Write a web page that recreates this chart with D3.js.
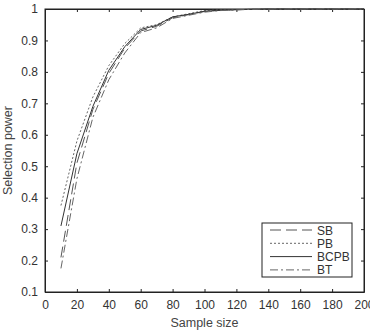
<!DOCTYPE html>
<html>
<head>
<meta charset="utf-8">
<script src="https://cdn.jsdelivr.net/npm/d3@7"></script>
<style>
  body { margin: 0; background: #fff; }
  text { font-family: "Liberation Sans", Arial, sans-serif; }
</style>
</head>
<body>
<div id="chart"></div>
<script>
var chart_width = 370;
var chart_height = 332;

// sample sizes and selection power per method
var sampleSize = [10, 20, 30, 40, 50, 60, 70, 80, 90, 100, 110, 120, 130, 140, 160, 180, 200];
var sb   = [0.21, 0.51, 0.68, 0.795, 0.875, 0.93, 0.945, 0.972, 0.982, 0.992, 0.996, 0.998, 0.999, 1, 1, 1, 1];
var pb   = [0.375, 0.58, 0.72, 0.82, 0.89, 0.94, 0.95, 0.975, 0.985, 0.995, 0.997, 0.998, 0.999, 1, 1, 1, 1];
var bcpb = [0.31, 0.54, 0.69, 0.805, 0.88, 0.935, 0.948, 0.975, 0.983, 0.993, 0.996, 0.998, 0.999, 1, 1, 1, 1];
var bt   = [0.175, 0.46, 0.655, 0.775, 0.86, 0.925, 0.94, 0.97, 0.98, 0.99, 0.995, 0.997, 0.999, 1, 1, 1, 1];
var seriesNames = ['SB', 'PB', 'BCPB', 'BT'];
var xTicks = [0, 20, 40, 60, 80, 100, 120, 140, 160, 180, 200];
var yTicks = [0.1, 0.2, 0.3, 0.4, 0.5, 0.6, 0.7, 0.8, 0.9, 1];

var margin = {left: 45, right: 6, top: 9, bottom: 40};

var svg = d3.select('#chart')
    .append('svg')
    .attr('width', chart_width)
    .attr('height', chart_height);

var x_scale = d3.scaleLinear()
    .domain([0, 200])
    .range([margin.left, 364]);

var y_scale = d3.scaleLinear()
    .domain([0.1, 1])
    .range([292, margin.top]);

// axes, ticks inward like matlab
var x_axis = d3.axisBottom(x_scale).tickValues(xTicks).tickSizeInner(-3).tickSizeOuter(0).tickPadding(8);
var y_axis = d3.axisLeft(y_scale).tickValues(yTicks).tickSizeInner(-3).tickSizeOuter(0).tickPadding(7)
    .tickFormat(d => d === 1 ? '1' : d3.format('.1f')(d));

svg.append('g')
    .attr('class', 'x-axis')
    .attr('transform', `translate(0, ${y_scale(0.1)})`)
    .call(x_axis);

svg.append('g')
    .attr('class', 'y-axis')
    .attr('transform', `translate(${x_scale(0)}, 0)`)
    .call(y_axis);

svg.append('g')
    .attr('transform', `translate(0, ${y_scale(1)})`)
    .call(d3.axisTop(x_scale).tickValues(xTicks).tickSizeInner(-3).tickSizeOuter(0).tickFormat(''));

svg.append('g')
    .attr('transform', `translate(${x_scale(200)}, 0)`)
    .call(d3.axisRight(y_scale).tickValues(yTicks).tickSizeInner(-3).tickSizeOuter(0).tickFormat(''));

svg.selectAll('.domain, .tick line').attr('stroke', '#222');
svg.selectAll('.tick text').attr('font-size', 12).attr('fill', '#333');

// box
svg.append('rect')
    .attr('x', x_scale(0))
    .attr('y', y_scale(1))
    .attr('width', x_scale(200) - x_scale(0))
    .attr('height', y_scale(0.1) - y_scale(1))
    .attr('fill', 'none')
    .attr('stroke', '#222');

// axis titles
svg.append('text')
    .attr('x', (x_scale(0) + x_scale(200)) / 2)
    .attr('y', 327)
    .attr('text-anchor', 'middle')
    .attr('font-size', 12.5)
    .attr('fill', '#444')
    .text('Sample size');

svg.append('text')
    .attr('transform', `translate(12, ${(y_scale(0.1) + y_scale(1)) / 2}) rotate(-90)`)
    .attr('text-anchor', 'middle')
    .attr('font-size', 12.5)
    .attr('fill', '#444')
    .text('Selection power');

// lines
var styles = [
    {values: sb, dash: '11,5', color: '#555'},
    {values: pb, dash: '2,2', color: '#666'},
    {values: bcpb, dash: null, color: '#333'},
    {values: bt, dash: '8,3,2,3', color: '#666'}
];

var line = d3.line()
    .x((d, i) => x_scale(sampleSize[i]))
    .y(d => y_scale(d));

styles.forEach(s => {
    svg.append('path')
        .datum(s.values)
        .attr('d', line)
        .attr('fill', 'none')
        .attr('stroke', s.color)
        .attr('stroke-width', 1)
        .attr('stroke-dasharray', s.dash);
});

// legend
var lg = svg.append('g').attr('transform', 'translate(262, 223)');
lg.append('rect')
    .attr('width', 90)
    .attr('height', 54)
    .attr('fill', '#fff')
    .attr('stroke', '#222');

seriesNames.forEach((name, i) => {
    var yy = 7 + i * 13.3;
    lg.append('line')
        .attr('x1', 8).attr('x2', 50)
        .attr('y1', yy).attr('y2', yy)
        .attr('stroke', styles[i].color)
        .attr('stroke-dasharray', styles[i].dash);
    lg.append('text')
        .attr('x', 55)
        .attr('y', yy + 4.5)
        .attr('font-size', 12)
        .attr('fill', '#333')
        .text(name);
});
</script>
</body>
</html>
